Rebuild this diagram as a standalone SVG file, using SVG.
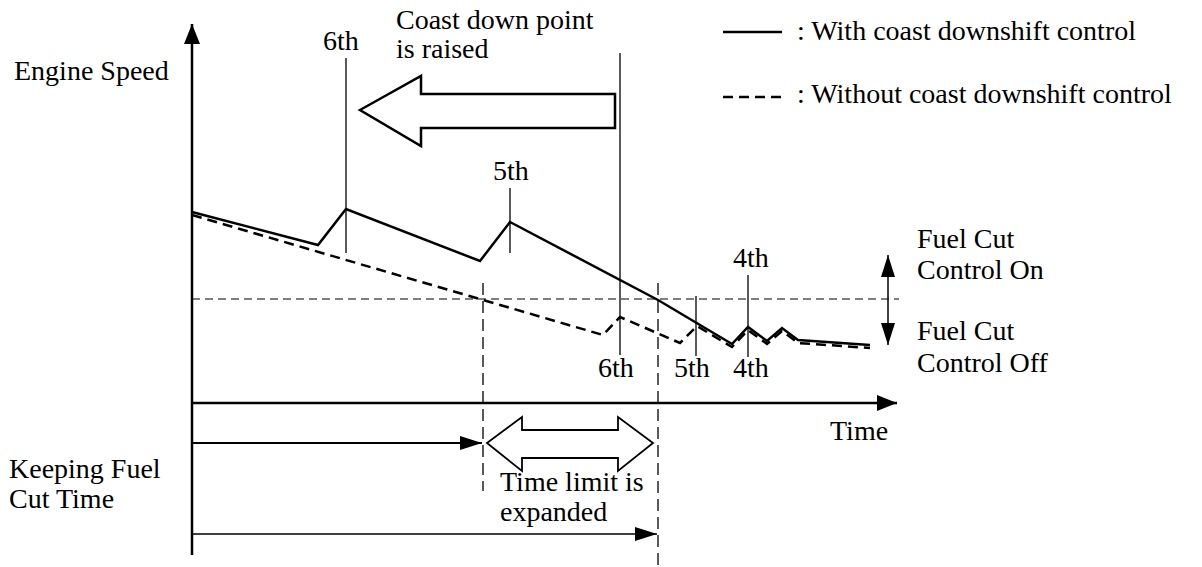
<svg xmlns="http://www.w3.org/2000/svg" width="1202" height="567" viewBox="0 0 1202 567">
<style>
text{font-family:"Liberation Serif",Tinos,"Times New Roman","DejaVu Serif",serif;font-size:28px;fill:#000}
.ax{stroke:#000;stroke-width:2.5;fill:none}
.thin{stroke:#000;stroke-width:1.3;fill:none}
.vd{stroke:#000;stroke-width:1.3;fill:none;stroke-dasharray:12 6}
.hd{stroke:#000;stroke-width:1.2;fill:none;stroke-dasharray:8 5}
.sol{stroke:#000;stroke-width:2.5;fill:none;stroke-linejoin:miter}
.dsh{stroke:#000;stroke-width:2.5;fill:none;stroke-dasharray:10 6}
.hollow{fill:#fff;stroke:#000;stroke-width:2.5;stroke-linejoin:miter}
</style>
<defs>
<marker id="ah" viewBox="0 0 20 16" refX="20" refY="8" markerWidth="20" markerHeight="16" markerUnits="userSpaceOnUse" orient="auto-start-reverse">
<path d="M0,0 L20,8 L0,16 Z" fill="#000"/>
</marker>
<marker id="ahs" viewBox="0 0 22 14" refX="22" refY="7" markerWidth="22" markerHeight="14" markerUnits="userSpaceOnUse" orient="auto-start-reverse">
<path d="M0,0 L22,7 L0,14 Z" fill="#000"/>
</marker>
</defs>

<g id="axes">
<line class="ax" x1="192" y1="555" x2="192" y2="24" marker-end="url(#ah)"/>
<line class="ax" x1="192" y1="403" x2="897" y2="403" marker-end="url(#ah)"/>
</g>

<g id="labels">
<text x="14" y="80">Engine Speed</text>
<text x="9" y="478">Keeping Fuel<tspan x="9" y="508">Cut Time</tspan></text>
<text x="830" y="440">Time</text>
<text x="396" y="29">Coast down point<tspan x="396" y="58">is raised</tspan></text>
<text x="323" y="50">6th</text>
<text x="493" y="180">5th</text>
<text x="733" y="267">4th</text>
<text x="598" y="377">6th</text>
<text x="674" y="377">5th</text>
<text x="733" y="377">4th</text>
<text x="917" y="248">Fuel Cut<tspan x="917" y="279">Control On</tspan></text>
<text x="917" y="340">Fuel Cut<tspan x="917" y="372">Control Off</tspan></text>
<text x="500" y="491">Time limit is<tspan x="500" y="521">expanded</tspan></text>
</g>

<g id="legend">
<line x1="723" y1="32" x2="782" y2="32" stroke="#000" stroke-width="2.5"/>
<text x="797" y="40">: With coast downshift control</text>
<line x1="723" y1="97" x2="782" y2="97" stroke="#000" stroke-width="2.5" stroke-dasharray="10 6"/>
<text x="797" y="103">: Without coast downshift control</text>
</g>

<g id="guides">
<line class="hd" x1="192" y1="299" x2="899" y2="299"/>
<line class="thin" x1="346" y1="58" x2="346" y2="253"/>
<line class="thin" x1="510" y1="188" x2="510" y2="253"/>
<line class="thin" x1="620" y1="53" x2="620" y2="355"/>
<line class="thin" x1="696" y1="296" x2="696" y2="356"/>
<line class="thin" x1="748" y1="275" x2="748" y2="357"/>
<line class="vd" x1="483" y1="283" x2="483" y2="491"/>
<line class="vd" x1="658" y1="283" x2="658" y2="567"/>
</g>

<g id="curves">
<polyline class="dsh" points="192,215 603,335 620,317 680,343 697,326 732,347 748,330 767,344 782,331 798,343 870,348"/>
<polyline class="sol" points="192,212 318,245 346,209 480,261 510,222 658,300 732,344 748,327 767,341 782,328 798,340 870,345"/>
</g>

<g id="raised-arrow">
<polygon class="hollow" points="360,110 421,76 421,94 615,94 615,128 421,128 421,146"/>
</g>

<g id="fuelcut-arrow">
<line x1="888" y1="255" x2="888" y2="345" stroke="#000" stroke-width="1.5" marker-start="url(#ahs)" marker-end="url(#ahs)"/>
</g>

<g id="time-arrows">
<line x1="192" y1="443" x2="482" y2="443" stroke="#000" stroke-width="2" marker-end="url(#ahs)"/>
<line x1="192" y1="534" x2="657" y2="534" stroke="#000" stroke-width="1.5" marker-end="url(#ahs)"/>
<polygon points="487,443 522,417 522,430 618,430 618,417 653,443 618,471 618,458 522,458 522,471" fill="#fff" stroke="#000" stroke-width="1.8"/>
</g>
</svg>
